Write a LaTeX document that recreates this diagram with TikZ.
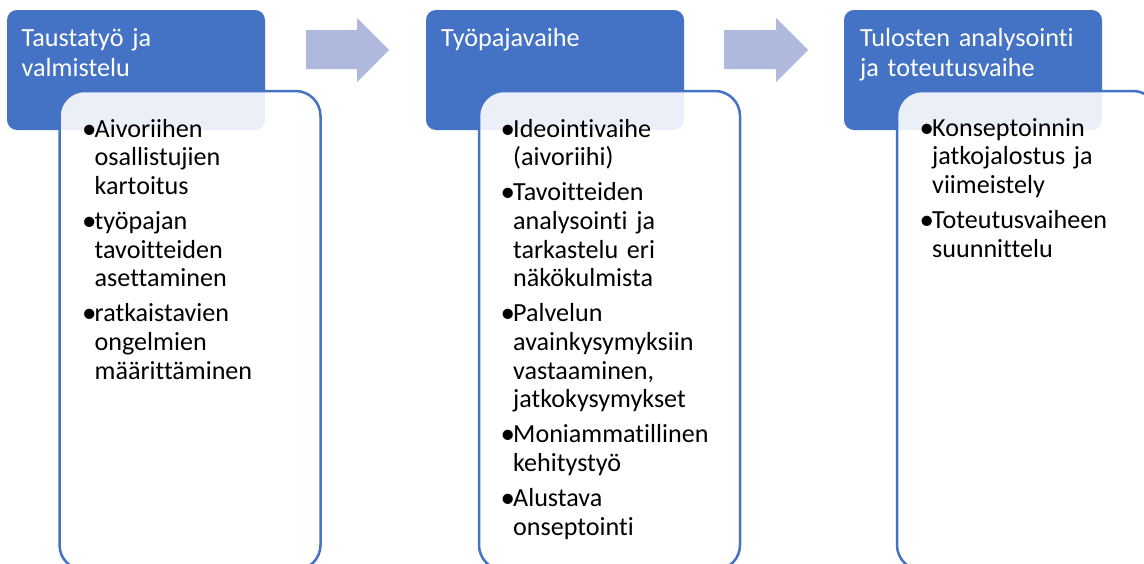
\documentclass[tikz,border=0pt]{standalone}
\usepackage{fontspec}
\setmainfont{Carlito}[Ligatures=NoCommon]

\definecolor{stageblue}{RGB}{68,114,196}
\definecolor{stagearrowfill}{RGB}{174,185,221}

% one bullet paragraph with a hanging indent
\newcommand\stagebullet{\makebox[11pt][l]{\kern-1.5pt\raisebox{-1pt}{\fontsize{29}{28.7}\selectfont •}}}
\newcommand\stageitem[1]{\hangindent=11pt\hangafter=1\stagebullet#1\par}

\tikzset{
  stagehead/.style={draw=none, fill=stageblue, rounded corners=10pt,
    minimum width=258pt, minimum height=120pt, inner sep=0pt, outer sep=0pt,
    anchor=north west},
  stagetitle/.style={text=white, inner sep=0pt, anchor=base west,
    text width=245pt, font=\fontsize{26.2}{30}\selectfont},
  stagebody/.style={draw=stageblue, line width=2.5pt, fill=white, fill opacity=0.89,
    rounded corners=25pt, minimum width=261pt, minimum height=479pt,
    inner sep=0pt, outer sep=0pt, anchor=north west},
  stagelist/.style={text=black, inner sep=0pt, anchor=base west,
    text width=240pt, font=\fontsize{26.1}{28.7}\selectfont},
  stagearrow/.style={fill=stagearrowfill, draw=none},
}

\begin{document}
\begin{tikzpicture}[x=1pt, y=-1pt]
  \useasboundingbox (0,0) rectangle (1144,563);
  \fill[white] (0,0) rectangle (1144,563);
  \clip (0,0) rectangle (1144,563);

  % stage headers
  \node[stagehead] (h1) at (7,10) {};
  \node[stagehead] (h2) at (426,10) {};
  \node[stagehead] (h3) at (844,10) {};

  \node[stagetitle] (t1) at (21.5,46.5) {Taustatyö ja\newline valmistelu};
  \node[stagetitle] (t2) at (441,46.5) {Työpajavaihe};
  \node[stagetitle] (t3) at (860,46.5) {Tulosten analysointi\newline ja toteutusvaihe};

  % block arrows between the stages
  \path[stagearrow] (306,30) -- (357,30) -- (357,18) -- (389,50) -- (357,82)
    -- (357,69) -- (306,69) -- cycle;
  \path[stagearrow] (724,30) -- (776,30) -- (776,18) -- (808,50) -- (776,82)
    -- (776,69) -- (724,69) -- cycle;

  % content panels
  \node[stagebody] (b1) at (59.5,91) {};
  \node[stagebody] (b2) at (479,91) {};
  \node[stagebody] (b3) at (897,91) {};

  \node[stagelist] (l1) at (83.5,137) {\setlength\parskip{6.3pt}%
    \stageitem{Aivoriihen\newline osallistujien\newline kartoitus}%
    \stageitem{työpajan\newline tavoitteiden\newline asettaminen}%
    \stageitem{ratkaistavien\newline ongelmien\newline määrittäminen}};

  \node[stagelist] (l2) at (502,137) {\setlength\parskip{6.3pt}%
    \stageitem{Ideointivaihe\newline (aivoriihi)}%
    \stageitem{Tavoitteiden\newline analysointi ja\newline tarkastelu eri\newline näkökulmista}%
    \stageitem{Palvelun\newline avainkysymyksiin\newline vastaaminen,\newline jatkokysymykset}%
    \stageitem{Moniammatillinen\newline kehitystyö}%
    \stageitem{Alustava\newline onseptointi}};

  \node[stagelist] (l3) at (921,136) {\setlength\parskip{6.3pt}%
    \stageitem{Konseptoinnin\newline jatkojalostus ja\newline viimeistely}%
    \stageitem{Toteutusvaiheen\newline suunnittelu}};
\end{tikzpicture}
\end{document}
